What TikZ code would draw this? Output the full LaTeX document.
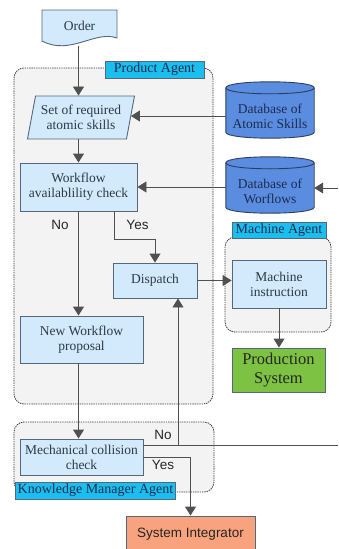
\documentclass[tikz,border=0pt]{standalone}
\usepackage{fontspec}
\setmainfont{Liberation Serif}
\setsansfont{Liberation Sans}
\usetikzlibrary{arrows.meta,shapes.geometric,calc}
\pgfdeclarelayer{bg}
\pgfdeclarelayer{mid}
\pgfsetlayers{bg,mid,main}

\definecolor{boxfill}{HTML}{D2EAFB}
\definecolor{boxline}{HTML}{55687A}
\definecolor{boxtext}{HTML}{2C3A48}
\definecolor{dbfill}{HTML}{5A8CE0}
\definecolor{dbline}{HTML}{2E3F5E}
\definecolor{dbtext}{HTML}{1C2C50}
\definecolor{tagfill}{HTML}{1BBFEF}
\definecolor{regionfill}{HTML}{F3F3F3}
\definecolor{prodfill}{HTML}{7DC242}
\definecolor{sifill}{HTML}{F8A37D}
\definecolor{wire}{HTML}{505050}

\tikzset{
  txt/.style={font=\fontsize{13.5}{15}\selectfont, text=boxtext, align=center},
  procbox/.style={txt, draw=boxline, fill=boxfill, line width=0.9pt, inner sep=0pt},
  dbnode/.style={txt, text=dbtext, inner sep=0pt, minimum width=88pt},
  dbshape/.style={fill=dbfill, draw=dbline, line width=0.9pt},
  region/.style={draw=black!75, fill=regionfill, rounded corners=10pt,
    dash pattern=on 1.4pt off 0.9pt, line width=0.8pt, inner sep=0pt},
  tag/.style={font=\fontsize{14}{16}\selectfont, text=dbtext, draw=boxline,
    fill=tagfill, line width=0.8pt, inner sep=0pt},
  wirel/.style={draw=wire, line width=0.9pt},
  arr/.style={wirel, -{Triangle[length=9pt,width=11pt]}},
  yn/.style={font=\sffamily\fontsize{13.5}{15}\selectfont, text=black!85}
}

% cylinder drawn around a database node; the node spans the visible body
\newcommand\dbcylinder[1]{%
  \begin{pgfonlayer}{mid}
  \path[dbshape] ([yshift=6pt]#1.north west) -- ([yshift=6pt]#1.south west)
    .. controls ([yshift=-2pt]#1.south west) and ([yshift=-2pt]#1.south east) ..
    ([yshift=6pt]#1.south east) -- ([yshift=6pt]#1.north east)
    .. controls ([yshift=14pt]#1.north east) and ([yshift=14pt]#1.north west) ..
    cycle;
  \draw[draw=dbline, line width=0.9pt] ([yshift=6pt]#1.north west)
    .. controls ([yshift=-2pt]#1.north west) and ([yshift=-2pt]#1.north east) ..
    ([yshift=6pt]#1.north east);
  \end{pgfonlayer}}

\begin{document}
\begin{tikzpicture}[x=1pt,y=-1pt]
\useasboundingbox (0,0) rectangle (338,549);

% agent regions
\begin{pgfonlayer}{bg}
  \node[region, minimum width=199pt, minimum height=336pt] (prodregion) at (113.5,236) {};
  \node[region, minimum width=106pt, minimum height=95pt] (machregion) at (278,284.5) {};
  \node[region, minimum width=200pt, minimum height=70pt] (kmregion) at (114,457) {};
\end{pgfonlayer}
\node[tag, minimum width=99pt, minimum height=17pt] (prodtag) at (154.5,69.5) {Product Agent};
\node[tag, minimum width=94pt, minimum height=16pt] (machtag) at (279,230) {Machine Agent};
\node[tag, minimum width=160pt, minimum height=17pt] (kmtag) at (95.5,490.5) {Knowledge Manager Agent};

% order document
\path[procbox] (42,10) -- (117,10) -- (117,38)
  .. controls (95,30) and (70,56) .. (42,41) -- cycle;
\node[txt] (order) at (79.5,26) {Order};
\coordinate (orderbot) at (78.5,46);

% process steps
\node[procbox, trapezium, trapezium left angle=74, trapezium right angle=106,
  trapezium stretches=true, minimum width=108pt, minimum height=43pt]
  (skills) at (81,117.5) {Set of required\\atomic skills};
\node[procbox, minimum width=117pt, minimum height=48pt] (wcheck) at (78.5,187)
  {Workflow\\availablility check};
\node[procbox, minimum width=84pt, minimum height=35pt] (dispatch) at (155,280.5) {Dispatch};
\node[procbox, minimum width=94pt, minimum height=48pt] (minstr) at (279,284)
  {Machine\\instruction};
\node[procbox, minimum width=123pt, minimum height=47pt] (newwf) at (81.5,339.5)
  {New Workflow\\proposal};
\node[procbox, minimum width=123pt, minimum height=36pt] (mcheck) at (81.5,457)
  {Mechanical collision\\check};
\node[procbox, fill=prodfill, font=\fontsize{16.5}{19}\selectfont, text=black!85,
  minimum width=93pt, minimum height=44pt] (prodsys) at (278.5,370) {Production\\System};
\node[procbox, fill=sifill, font=\sffamily\fontsize{13.5}{15}\selectfont, text=black!85,
  minimum width=129pt, minimum height=36pt] (sysint) at (190.5,534) {System Integrator};

% databases
\node[dbnode, minimum height=44pt] (dbskills) at (270,116) {Database of\\Atomic Skills};
\dbcylinder{dbskills}
\node[dbnode, minimum height=44pt] (dbflows) at (270,191) {Database of\\Worflows};
\dbcylinder{dbflows}

% connectors
\draw[arr] (orderbot) -- (orderbot |- skills.north);
\draw[arr] (skills.south -| wcheck.north) -- (wcheck.north);
\draw[arr] (dbskills.west) -- (dbskills.west -| skills.east);
\draw[arr] (wcheck.east -| dbflows.west) -- (wcheck.east);
\coordinate (flowsin) at (338,188);
\draw[arr] (flowsin) -- (flowsin -| dbflows.east);
\draw[arr] (wcheck.south) -- (wcheck.south |- newwf.north);
\draw[arr] ([xshift=35.5pt]wcheck.south) -- ++(0,28) -| (dispatch.north);
\draw[arr] (dispatch.east) -- (dispatch.east -| minstr.west);
\draw[arr] (minstr.south) -- (minstr.south |- prodsys.north);
\draw[arr] ([xshift=-3pt]newwf.south) -- ([xshift=-3pt]mcheck.north);
\coordinate (noout) at (338,445);
\draw[wirel] ([yshift=12pt]mcheck.east) -- (noout);
\coordinate (nojoin) at (178,445);
\draw[arr] (nojoin) -- (nojoin |- dispatch.south);
\draw[arr] (mcheck.east) -| (sysint.north);

% branch labels
\node[yn] (wno) at (60,225) {No};
\node[yn] (wyes) at (137.5,225) {Yes};
\node[yn] (mno) at (163,435) {No};
\node[yn] (myes) at (163,465) {Yes};
\end{tikzpicture}
\end{document}
